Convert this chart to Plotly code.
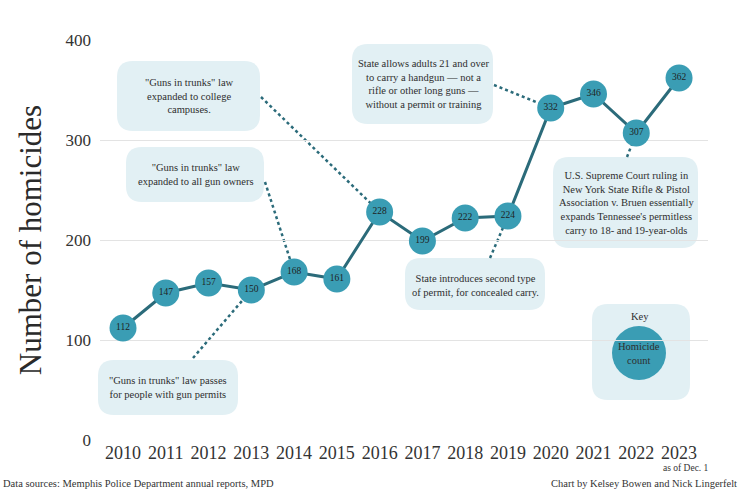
import plotly.graph_objects as go

# ---------------- data ----------------
years = list(range(2010, 2024))
homicides = [112, 147, 157, 150, 168, 161, 228, 199, 222, 224, 332, 346, 307, 362]
x_tick_labels = [str(y) for y in years]
y_ticks = [0, 100, 200, 300, 400]

callout_texts = [
    '"Guns in trunks" law<br>expanded to college<br>campuses.',
    '"Guns in trunks" law<br>expanded to all gun owners',
    '"Guns in trunks" law passes<br>for people with gun permits',
    'State allows adults 21 and over<br>to carry a handgun — not a<br>rifle or other long guns —<br>without a permit or training',
    "U.S. Supreme Court ruling in<br>New York State Rifle & Pistol<br>Association v. Bruen essentially<br>expands Tennessee's permitless<br>carry to 18- and 19-year-olds",
    'State introduces second type<br>of permit, for concealed carry.',
]
callout_years = [2016, 2014, 2013, 2020, 2022, 2019]

# ---------------- layout geometry (pixels) ----------------
W, H = 740, 493
L, R, T, B = 100, 32, 40, 53
PW, PH = W - L - R, H - T - B
XMIN, XMAX = 2009.462, 2023.677
YMIN, YMAX = 0, 400

FONT = "Liberation Serif, serif"
TXT = "#333333"
LINE_C = "#2b6b7a"
DOT_C = "#3a9db4"
BOX_C = "#e2f0f4"


def pxp(x):  # pixel x -> paper
    return (x - L) / PW


def pyp(y):  # pixel y -> paper
    return (H - B - y) / PH


def data_to_px(xv, yv):
    return (L + (xv - XMIN) / (XMAX - XMIN) * PW,
            H - B - (yv - YMIN) / (YMAX - YMIN) * PH)


def rounded_path(x0, y0, x1, y1, r):
    pts = [
        ("M", [(x0 + r, y0)]),
        ("L", [(x1 - r, y0)]),
        ("Q", [(x1, y0), (x1, y0 + r)]),
        ("L", [(x1, y1 - r)]),
        ("Q", [(x1, y1), (x1 - r, y1)]),
        ("L", [(x0 + r, y1)]),
        ("Q", [(x0, y1), (x0, y1 - r)]),
        ("L", [(x0, y0 + r)]),
        ("Q", [(x0, y0), (x0 + r, y0)]),
    ]
    s = ""
    for cmd, ps in pts:
        s += cmd + " " + " ".join(f"{pxp(a):.5f},{pyp(b):.5f}" for a, b in ps) + " "
    return s + "Z"


# callout layout: box (x0,y0,x1,y1), text centre, line start (pixels)
callout_layout = [
    dict(box=(117, 61, 260, 131), tc=(189, 96), ls=(261, 97)),
    dict(box=(126, 147, 264, 202), tc=(195, 174), ls=(265, 182)),
    dict(box=(98, 360, 238, 415), tc=(168, 387), ls=(193, 358)),
    dict(box=(352, 44, 493, 124), tc=(423, 84), ls=(494, 85)),
    dict(box=(553, 157, 698, 248), tc=(626, 203), ls=(627, 157)),
    dict(box=(405, 258, 545, 310), tc=(475, 285), ls=(490, 258)),
]

shapes = []
annotations = []

for txt, yr, lay in zip(callout_texts, callout_years, callout_layout):
    x0, y0, x1, y1 = lay["box"]
    shapes.append(dict(type="path", path=rounded_path(x0, y0, x1, y1, 16),
                       xref="paper", yref="paper", fillcolor=BOX_C,
                       line=dict(width=0), layer="between"))
    i = years.index(yr)
    ex, ey = data_to_px(years[i], homicides[i])
    sx, sy = lay["ls"]
    shapes.append(dict(type="line", xref="paper", yref="paper",
                       x0=pxp(sx), y0=pyp(sy), x1=pxp(ex), y1=pyp(ey),
                       line=dict(color=LINE_C, width=2.5, dash="dot"),
                       layer="between"))
    annotations.append(dict(text=txt, xref="paper", yref="paper",
                            x=pxp(lay["tc"][0]), y=pyp(lay["tc"][1]),
                            showarrow=False, xanchor="center", yanchor="middle",
                            align="center",
                            font=dict(family=FONT, size=10.5, color="#2e2e2e")))

# key box
shapes.append(dict(type="path", path=rounded_path(592, 304, 690, 400, 16),
                   xref="paper", yref="paper", fillcolor=BOX_C,
                   line=dict(width=0), layer="between"))
shapes.append(dict(type="circle", xref="paper", yref="paper",
                   x0=pxp(612), x1=pxp(666), y0=pyp(326), y1=pyp(380),
                   fillcolor=DOT_C, line=dict(width=0), layer="between"))
annotations.append(dict(text="Key", xref="paper", yref="paper",
                        x=pxp(640), y=pyp(316), showarrow=False,
                        xanchor="center", yanchor="middle",
                        font=dict(family=FONT, size=10.5, color="#2e2e2e")))
annotations.append(dict(text="Homicide<br>count", xref="paper", yref="paper",
                        x=pxp(639), y=pyp(353), showarrow=False,
                        xanchor="center", yanchor="middle",
                        font=dict(family=FONT, size=10.5, color="#2e2e2e")))

# footer
annotations += [
    dict(text="as of Dec. 1", xref="paper", yref="paper", x=pxp(711), y=pyp(468),
         xanchor="right", yanchor="middle", showarrow=False,
         font=dict(family=FONT, size=9.5, color=TXT)),
    dict(text="Data sources: Memphis Police Department annual reports, MPD",
         xref="paper", yref="paper", x=pxp(1), y=pyp(483), xanchor="left",
         yanchor="middle", showarrow=False,
         font=dict(family=FONT, size=10.5, color=TXT)),
    dict(text="Chart by Kelsey Bowen and Nick Lingerfelt",
         xref="paper", yref="paper", x=pxp(739), y=pyp(483), xanchor="right",
         yanchor="middle", showarrow=False,
         font=dict(family=FONT, size=10.5, color=TXT)),
]

fig = go.Figure()
fig.add_trace(go.Scatter(
    x=years, y=homicides, mode="lines+markers+text",
    text=[str(v) for v in homicides], textposition="middle center",
    textfont=dict(family=FONT, size=9.5, color="#1f1f1f"),
    line=dict(color=LINE_C, width=3),
    marker=dict(size=27, color=DOT_C, line=dict(width=0)),
    hoverinfo="skip", cliponaxis=False,
))

fig.update_layout(
    width=W, height=H,
    margin=dict(l=L, r=R, t=T, b=B, autoexpand=False),
    paper_bgcolor="white", plot_bgcolor="white",
    showlegend=False,
    shapes=shapes, annotations=annotations,
    xaxis=dict(range=[XMIN, XMAX], tickmode="array", tickvals=years,
               ticktext=x_tick_labels, showgrid=False, zeroline=False,
               showline=False, ticks="", automargin=False,
               tickfont=dict(family=FONT, size=18, color=TXT)),
    yaxis=dict(range=[YMIN, YMAX], tickmode="array", tickvals=y_ticks,
               showgrid=True, gridcolor="#e3e3e3", gridwidth=1,
               zeroline=False, showline=False, ticks="", automargin=False,
               ticklabelstandoff=8,
               tickfont=dict(family=FONT, size=17, color=TXT),
               title=dict(text="Number of homicides", standoff=14,
                          font=dict(family=FONT, size=31, color="#2a2a2a"))),
)

fig.write_html("out.html", config={"displayModeBar": False},
               post_script="document.body.style.margin='0';document.body.style.padding='0';")
